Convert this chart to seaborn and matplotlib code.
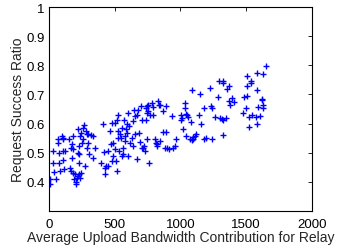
import matplotlib
matplotlib.use("Agg")
import matplotlib.pyplot as plt
import seaborn as sns
import pandas as pd

bandwidth = [
    5, 5, 33, 33, 38, 53, 71, 71, 76, 76, 84, 96, 104, 109, 109, 122, 109, 114,
    155, 160, 165, 167, 177, 177, 185, 185, 185, 193, 198, 205, 205, 215, 223,
    231, 236, 241, 223, 231, 231, 223, 231, 236, 241, 248, 256, 256, 266, 274,
    281, 286, 292, 299, 299, 317, 337, 307, 337, 350, 396, 413, 418, 426, 426,
    431, 451, 451, 464, 472, 477, 477, 484, 489, 502, 504, 510, 515, 520, 527,
    527, 535, 527, 540, 548, 553, 553, 560, 565, 570, 578, 580, 586, 591, 596,
    603, 603, 611, 616, 629, 636, 641, 649, 654, 657, 667, 672, 680, 687, 692,
    700, 705, 710, 717, 722, 730, 738, 738, 743, 743, 743, 755, 755, 760, 768,
    781, 788, 793, 806, 814, 819, 824, 831, 836, 844, 844, 869, 890, 890, 869,
    882, 895, 915, 933, 946, 958, 966,
    1034, 1034, 1085, 1148, 1179, 1224, 1229, 1237, 1288, 1295, 1326, 1326,
    1356, 1371, 1371, 1376, 1389, 1407, 1485, 1498, 1503, 1503, 1508, 1533,
    1536, 1579, 1584, 1592, 1617, 1622, 1625, 1625, 1630, 1650,
    1001, 1009, 1004, 1042, 1052, 1059, 1077, 1021, 1042, 1072, 1085, 1092,
    1097, 1110, 1118, 1143, 1153, 1179, 1194, 1239, 1260, 1300, 1313, 1326,
    1346, 1320, 1478, 1521, 1541, 1523, 1574, 1579, 1604,
]
success_ratio = [
    0.392, 0.409, 0.506, 0.466, 0.434, 0.409, 0.548, 0.534, 0.500, 0.466, 0.438,
    0.559, 0.551, 0.546, 0.506, 0.506, 0.474, 0.443, 0.546, 0.449, 0.438, 0.517,
    0.529, 0.483, 0.557, 0.512, 0.432, 0.409, 0.426, 0.398, 0.392, 0.415, 0.421,
    0.426, 0.415, 0.432, 0.500, 0.495, 0.466, 0.580, 0.523, 0.559, 0.568, 0.534,
    0.546, 0.586, 0.594, 0.455, 0.574, 0.563, 0.517, 0.534, 0.563, 0.561, 0.559,
    0.495, 0.483, 0.517, 0.466, 0.597, 0.502, 0.426, 0.449, 0.455, 0.506, 0.455,
    0.574, 0.529, 0.603, 0.472, 0.489, 0.534, 0.514, 0.603, 0.472, 0.438, 0.614,
    0.628, 0.574, 0.506, 0.551, 0.563, 0.551, 0.586, 0.489, 0.517, 0.495, 0.611,
    0.557, 0.540, 0.580, 0.597, 0.568, 0.637, 0.489, 0.591, 0.534, 0.551, 0.523,
    0.608, 0.648, 0.563, 0.625, 0.477, 0.631, 0.648, 0.568, 0.537, 0.662, 0.612,
    0.517, 0.517, 0.523, 0.506, 0.653, 0.612, 0.637, 0.546, 0.660, 0.665, 0.642,
    0.464, 0.631, 0.671, 0.657, 0.631, 0.546, 0.534, 0.529, 0.523, 0.677, 0.665,
    0.665, 0.540, 0.571, 0.571, 0.660, 0.642, 0.517, 0.517, 0.512, 0.625, 0.517,
    0.523, 0.546,
    0.671, 0.654, 0.714, 0.701, 0.654, 0.721, 0.659, 0.654, 0.693, 0.748, 0.748,
    0.739, 0.719, 0.728, 0.676, 0.665, 0.688, 0.674, 0.690, 0.654, 0.764, 0.730,
    0.696, 0.747, 0.741, 0.775, 0.716, 0.657, 0.684, 0.680, 0.771, 0.665, 0.654,
    0.799,
    0.628, 0.620, 0.614, 0.634, 0.628, 0.623, 0.607, 0.583, 0.559, 0.548, 0.543,
    0.546, 0.555, 0.557, 0.566, 0.628, 0.598, 0.546, 0.549, 0.546, 0.624, 0.620,
    0.617, 0.614, 0.620, 0.561, 0.637, 0.623, 0.630, 0.589, 0.623, 0.597, 0.625,
]
x_ticks = [0, 500, 1000, 1500, 2000]
y_ticks = [0.4, 0.5, 0.6, 0.7, 0.8, 0.9, 1.0]
y_tick_labels = ["0.4", "0.5", "0.6", "0.7", "0.8", "0.9", "1"]

sns.set_style("white")
plt.rcParams["font.family"] = ["Liberation Sans", "DejaVu Sans"]

df = pd.DataFrame({"bw": bandwidth, "ratio": success_ratio})

fig = plt.figure(figsize=(3.38, 2.53), dpi=100)
ax = fig.add_axes([0.145, 0.162, 0.778, 0.806])
sns.scatterplot(data=df, x="bw", y="ratio", marker="+", color="#0000ff",
                s=16, linewidth=1.0, ax=ax)

ax.set_xlim(0, 2000)
ax.set_ylim(0.3, 1.0)
ax.set_xticks(x_ticks)
ax.set_yticks(y_ticks)
ax.set_yticklabels(y_tick_labels)
ax.tick_params(direction="in", length=3, width=0.6, labelsize=9.5,
               top=True, right=True, colors="black")
ax.tick_params(axis="x", pad=5)
ax.tick_params(axis="y", pad=3)
for s in ax.spines.values():
    s.set_color("black")
    s.set_linewidth(0.8)
ax.set_xlabel("Average Upload Bandwidth Contribution for Relay", fontsize=10,
              labelpad=0)
ax.set_ylabel("Request Success Ratio", fontsize=10, labelpad=1)

fig.savefig("out.png", dpi=100)
